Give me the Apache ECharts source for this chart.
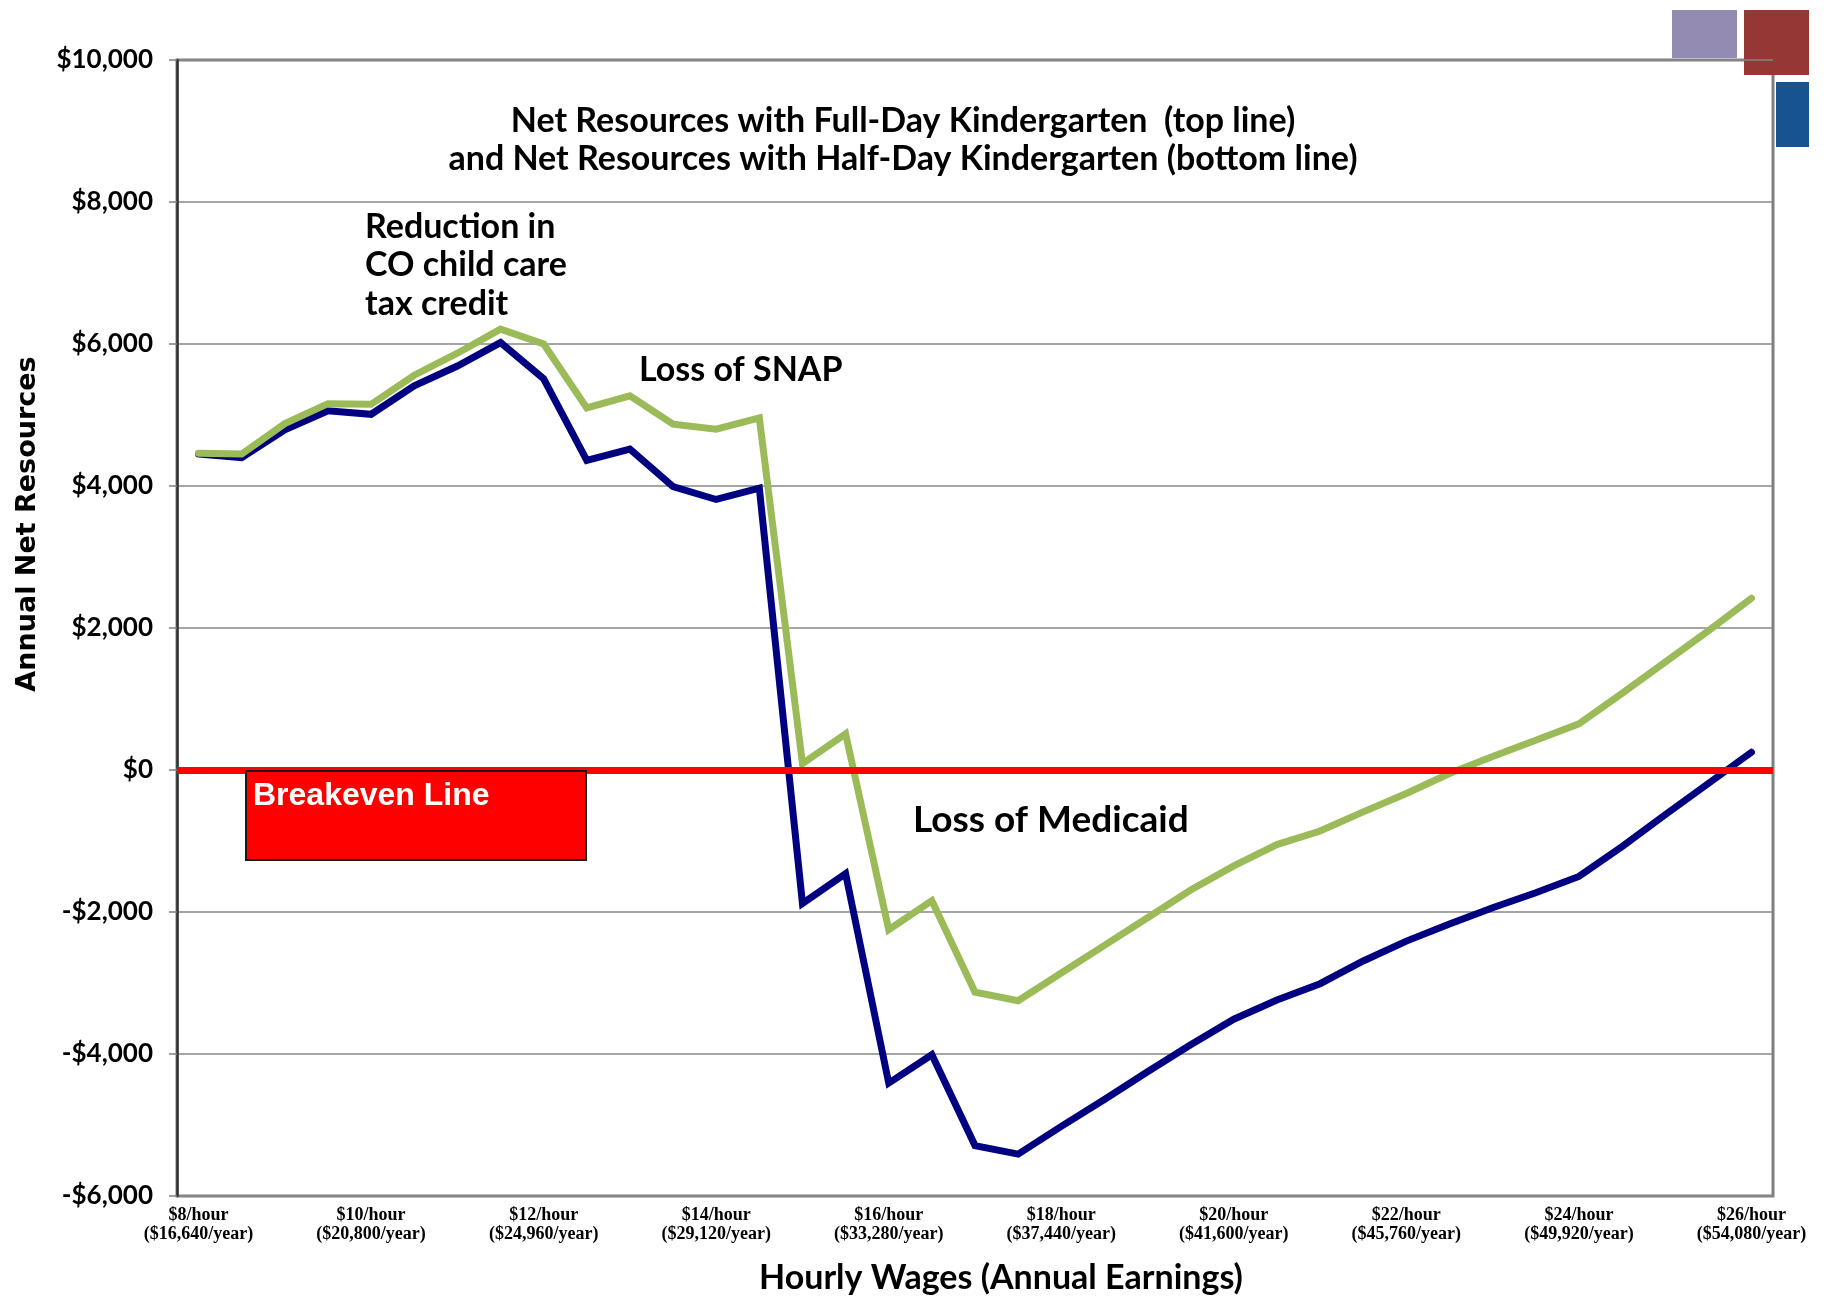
<!DOCTYPE html>
<html>
<head>
<meta charset="utf-8">
<style>
  html, body { margin: 0; padding: 0; background: #ffffff; }
  #chart { width: 1833px; height: 1299px; }
</style>
<script src="https://cdn.jsdelivr.net/npm/echarts@6/dist/echarts.min.js"></script>
</head>
<body>
<div id="chart"></div>
<script>
// Hourly wage steps ($0.50 apart)
const wages = [
  '$8.00', '$8.50', '$9.00', '$9.50', '$10.00', '$10.50', '$11.00', '$11.50', '$12.00', '$12.50',
  '$13.00', '$13.50', '$14.00', '$14.50', '$15.00', '$15.50', '$16.00', '$16.50', '$17.00', '$17.50',
  '$18.00', '$18.50', '$19.00', '$19.50', '$20.00', '$20.50', '$21.00', '$21.50', '$22.00', '$22.50',
  '$23.00', '$23.50', '$24.00', '$24.50', '$25.00', '$25.50', '$26.00'
];

// Labels shown under every fourth wage step
const tickLabels = [
  '$8/hour\n($16,640/year)', '$10/hour\n($20,800/year)', '$12/hour\n($24,960/year)',
  '$14/hour\n($29,120/year)', '$16/hour\n($33,280/year)', '$18/hour\n($37,440/year)',
  '$20/hour\n($41,600/year)', '$22/hour\n($45,760/year)', '$24/hour\n($49,920/year)',
  '$26/hour\n($54,080/year)'
];

// Annual net resources with full-day kindergarten (top line)
const fullDay = [
  4460, 4450, 4880, 5160, 5150, 5560, 5870, 6210, 6000, 5100,
  5270, 4870, 4800, 4960, 90, 510, -2250, -1840, -3130, -3250,
  -2860, -2470, -2080, -1690, -1350, -1050, -860, -590, -330, -50,
  190, 420, 650, 1080, 1520, 1960, 2420
];

// Annual net resources with half-day kindergarten (bottom line)
const halfDay = [
  4450, 4400, 4790, 5060, 5010, 5410, 5690, 6020, 5510, 4360,
  4520, 3990, 3810, 3970, -1880, -1460, -4410, -4010, -5290, -5410,
  -5020, -4640, -4250, -3870, -3510, -3240, -3010, -2690, -2410, -2170,
  -1940, -1730, -1500, -1080, -630, -190, 250
];

const breakeven = 0;

const gill = '"Lato", "Open Sans", sans-serif';

function money(v) {
  const s = '$' + Math.abs(v).toLocaleString('en-US');
  return v < 0 ? '-' + s : s;
}

function label(text, x, y, size, extra) {
  return Object.assign({
    type: 'text', z: 50, x: x, y: y,
    style: { text: text, font: 'bold ' + size + 'px ' + gill, fill: '#000',
             textVerticalAlign: 'middle', verticalAlign: 'middle' }
  }, extra || {});
}

const chart = echarts.init(document.getElementById('chart'), null, { renderer: 'canvas' });

chart.setOption({
  animation: false,
  backgroundColor: '#ffffff',
  grid: {
    left: 177, right: 60, top: 60, bottom: 103,
    show: true,
    backgroundColor: '#ffffff',
    borderColor: '#7f7f7f',
    borderWidth: 3
  },
  xAxis: {
    type: 'category',
    data: wages,
    boundaryGap: true,
    axisLine: { show: false },
    axisTick: { show: false },
    splitLine: { show: false },
    axisLabel: {
      interval: 3,
      margin: 10,
      fontFamily: '"Liberation Serif", "DejaVu Serif", serif',
      fontWeight: 'bold',
      fontSize: 18,
      lineHeight: 19,
      color: '#000000',
      formatter: function (value, index) { return tickLabels[index / 4]; }
    }
  },
  yAxis: {
    type: 'value',
    min: -6000,
    max: 10000,
    interval: 2000,
    axisLine: { show: true, lineStyle: { color: '#333333', width: 2.5 } },
    axisTick: { show: true, inside: false, length: 8, lineStyle: { color: '#808080', width: 1.5 } },
    splitLine: { show: true, lineStyle: { color: '#878787', width: 1.5 } },
    axisLabel: {
      margin: 24,
      fontFamily: gill,
      fontWeight: 'bold',
      fontSize: 26,
      color: '#000000',
      formatter: money
    }
  },
  series: [
    {
      name: 'Breakeven',
      type: 'line',
      data: [],
      z: 1,
      silent: true,
      markLine: {
        silent: true,
        symbol: ['none', 'none'],
        label: { show: false },
        lineStyle: { color: '#ff0000', width: 7, type: 'solid' },
        data: [{ yAxis: breakeven }]
      }
    },
    {
      name: 'Half-Day Kindergarten',
      type: 'line',
      data: halfDay,
      z: 3,
      symbol: 'none',
      lineStyle: { color: '#000080', width: 7, cap: 'round', join: 'miter', miterLimit: 3 }
    },
    {
      name: 'Full-Day Kindergarten',
      type: 'line',
      data: fullDay,
      z: 4,
      symbol: 'none',
      lineStyle: { color: '#9bbb59', width: 7, cap: 'round', join: 'miter', miterLimit: 3 }
    }
  ],
  graphic: [
    // corner colour blocks
    { type: 'rect', z: 0, shape: { x: 1672, y: 10, width: 65, height: 48 }, style: { fill: '#948bb3' } },
    { type: 'rect', z: 0, shape: { x: 1744, y: 10, width: 65, height: 65 }, style: { fill: '#953735' } },
    { type: 'rect', z: 0, shape: { x: 1776, y: 82, width: 33, height: 65 }, style: { fill: '#17548f' } },

    // chart heading
    { type: 'text', z: 50, x: 903, y: 121,
      style: { text: 'Net Resources with Full-Day Kindergarten  (top line)', font: 'bold 34px ' + gill,
               fill: '#000', textAlign: 'center', textVerticalAlign: 'middle', align: 'center', verticalAlign: 'middle' } },
    { type: 'text', z: 50, x: 903, y: 159,
      style: { text: 'and Net Resources with Half-Day Kindergarten (bottom line)', font: 'bold 34px ' + gill,
               fill: '#000', textAlign: 'center', textVerticalAlign: 'middle', align: 'center', verticalAlign: 'middle' } },

    // annotations
    label('Reduction in', 365, 227, 34),
    label('CO child care', 365, 265, 34),
    label('tax credit', 365, 304, 34),
    label('Loss of SNAP', 639, 370, 34),
    label('Loss of Medicaid', 913, 820, 37),

    // breakeven callout box
    { type: 'rect', z: 50, shape: { x: 246, y: 771, width: 340, height: 89 },
      style: { fill: '#ff0000', stroke: '#1a1a1a', lineWidth: 2 } },
    { type: 'text', z: 51, x: 253, y: 796,
      style: { text: 'Breakeven Line', font: 'bold 32px "Liberation Sans", Arial, sans-serif', fill: '#ffffff',
               textVerticalAlign: 'middle', verticalAlign: 'middle' } },

    // axis titles
    { type: 'text', z: 50, x: 28, y: 524, rotation: Math.PI / 2,
      style: { text: 'Annual Net Resources', font: 'bold 27px "DejaVu Sans", Verdana, sans-serif', fill: '#000',
               textAlign: 'center', textVerticalAlign: 'middle', align: 'center', verticalAlign: 'middle' } },
    { type: 'text', z: 50, x: 1001, y: 1278,
      style: { text: 'Hourly Wages (Annual Earnings)', font: 'bold 34px ' + gill, fill: '#000',
               textAlign: 'center', textVerticalAlign: 'middle', align: 'center', verticalAlign: 'middle' } }
  ]
});
</script>
</body>
</html>
